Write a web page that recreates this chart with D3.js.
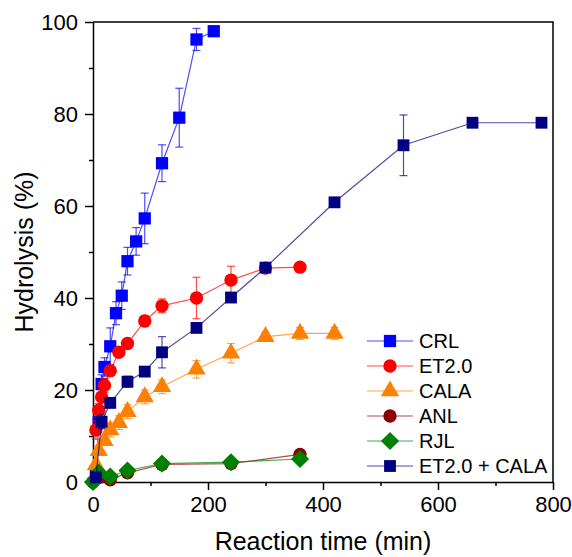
<!DOCTYPE html>
<html>
<head>
<meta charset="utf-8">
<script src="https://cdn.jsdelivr.net/npm/d3@7"></script>
<style>
  body { margin: 0; background: #fff; }
  text { font-family: "Liberation Sans", Arial, sans-serif; fill: #000; }
</style>
</head>
<body>
<div id="chart"></div>
<script>
// ---------- data ----------
const crlTime = [5, 10, 15, 20, 30, 40, 50, 60, 75, 90, 120, 150, 180, 210];
const crlHyd  = [1.5, 13, 21.3, 25, 29.5, 36.7, 40.5, 48, 52.3, 57.3, 69.3, 79.2, 96.2, 98];
const crlErr  = [0.5, 1.5, 2, 2, 4, 2.5, 3, 3, 3, 5.5, 4, 6.4, 2.4, 1];

const etTime = [5, 10, 15, 20, 30, 45, 60, 90, 120, 180, 240, 300, 360];
const etHyd  = [11.3, 15.6, 18.5, 21, 24.2, 28.2, 30.1, 35, 38.3, 40, 43.9, 46.5, 46.7];
const etErr  = [2, 1.5, 1.5, 1.5, 1, 1, 1, 1.2, 1.5, 4.5, 3, 0.5, 0.3];

const calaTime = [5, 10, 20, 30, 45, 60, 90, 120, 180, 240, 300, 360, 420];
const calaHyd  = [3.7, 6.8, 9, 11.3, 12.9, 15.3, 18.5, 20.7, 24.5, 28, 31.6, 32.3, 32.3];
const calaErr  = [0.5, 1, 1, 1.5, 1.5, 1.5, 1.5, 1.5, 1.9, 2.1, 1, 1.3, 1.3];

const anlTime = [0, 10, 30, 60, 120, 240, 360];
const anlHyd  = [0, 1, 0.5, 2, 3.8, 4, 6];
const anlErr  = [0, 0, 0, 0.3, 0.3, 0.3, 0.3];

const rjlTime = [0, 10, 30, 60, 120, 240, 360];
const rjlHyd  = [0, 2, 1.2, 2.5, 4, 4.3, 5];
const rjlErr  = [0, 0, 0, 0.3, 0.3, 0.3, 0.3];

const mixTime = [5, 15, 30, 60, 90, 120, 180, 240, 300, 420, 540, 660, 780];
const mixHyd  = [1, 13.1, 17.2, 21.8, 24, 28.2, 33.5, 40.1, 46.6, 60.8, 73.2, 78.1, 78.1];
const mixErr  = [0.5, 1.5, 1, 1.2, 1, 3.4, 1, 1, 0.5, 0.5, 6.6, 0.5, 0.5];

const seriesNames = ["CRL", "ET2.0", "CALA", "ANL", "RJL", "ET2.0 + CALA"];
const xTicks = [0, 200, 400, 600, 800];
const yTicks = [0, 20, 40, 60, 80, 100];

// rot = rotation of the symbol (diamond = square turned 45deg)
const series = [
  { name: seriesNames[0], t: crlTime, y: crlHyd, e: crlErr, color: "#0000ff", sym: d3.symbolSquare, size: 150, rot: 0 },
  { name: seriesNames[1], t: etTime, y: etHyd, e: etErr, color: "#ff0000", sym: d3.symbolCircle, size: 140, rot: 0 },
  { name: seriesNames[2], t: calaTime, y: calaHyd, e: calaErr, color: "#ff8000", sym: d3.symbolTriangle, size: 145, rot: 0 },
  { name: seriesNames[3], t: anlTime, y: anlHyd, e: anlErr, color: "#8b0000", sym: d3.symbolCircle, size: 140, rot: 0 },
  { name: seriesNames[4], t: rjlTime, y: rjlHyd, e: rjlErr, color: "#008000", sym: d3.symbolSquare, size: 165, rot: 45 },
  { name: seriesNames[5], t: mixTime, y: mixHyd, e: mixErr, color: "#000080", sym: d3.symbolSquare, size: 140, rot: 0 }
];

// ---------- layout ----------
const W = 572, H = 557;
const margin = { top: 22, left: 93, right: 19, bottom: 75 };
const width = W - margin.left - margin.right,
      height = H - margin.top - margin.bottom;

const svg = d3.select("#chart").append("svg")
  .attr("width", W).attr("height", H);

const x = d3.scaleLinear().domain([0, 800]).range([margin.left, margin.left + width]);
const y = d3.scaleLinear().domain([0, 100]).range([margin.top + height, margin.top]);

// frame (top + right)
svg.append("path")
  .attr("d", `M${x(0)},${y(100)}H${x(800)}V${y(0)}`)
  .attr("fill", "none").attr("stroke", "#000").attr("stroke-width", 1.5);

// minor ticks
svg.append("g")
  .attr("transform", `translate(0,${y(0)})`)
  .call(d3.axisBottom(x).tickValues([100, 300, 500, 700]).tickSize(4).tickFormat(""))
  .call(g => g.select(".domain").remove())
  .selectAll("line").attr("stroke-width", 1.5);
svg.append("g")
  .attr("transform", `translate(${x(0)},0)`)
  .call(d3.axisLeft(y).tickValues([10, 30, 50, 70, 90]).tickSize(4).tickFormat(""))
  .call(g => g.select(".domain").remove())
  .selectAll("line").attr("stroke-width", 1.5);

// major axes
const xAxis = svg.append("g")
  .attr("transform", `translate(0,${y(0)})`)
  .call(d3.axisBottom(x).tickValues(xTicks).tickSize(8).tickSizeOuter(0).tickPadding(6));
const yAxis = svg.append("g")
  .attr("transform", `translate(${x(0)},0)`)
  .call(d3.axisLeft(y).tickValues(yTicks).tickSize(8).tickSizeOuter(0).tickPadding(7));

[xAxis, yAxis].forEach(a => {
  a.select(".domain").attr("stroke-width", 1.5);
  a.selectAll("line").attr("stroke-width", 1.5);
  a.selectAll("text").style("font-size", "22px").attr("fill", "#000");
});

// axis titles
svg.append("text")
  .attr("x", (x(0) + x(800)) / 2).attr("y", 550)
  .attr("text-anchor", "middle")
  .style("font-size", "25px")
  .text("Reaction time (min)");

svg.append("text")
  .attr("transform", `translate(33,${(y(0) + y(100)) / 2}) rotate(-90)`)
  .attr("text-anchor", "middle")
  .style("font-size", "25px")
  .text("Hydrolysis (%)");

// ---------- series ----------
const line = d3.line().x(d => x(d.t)).y(d => y(d.y));

series.forEach(s => {
  const pts = s.t.map((t, i) => ({ t: t, y: s.y[i], e: s.e[i] }));
  const g = svg.append("g");

  g.append("path")
    .datum(pts)
    .attr("d", line)
    .attr("fill", "none")
    .attr("stroke", s.color)
    .attr("stroke-opacity", 0.7)
    .attr("stroke-width", 1.2);

  // error bars
  const eb = g.selectAll(".err").data(pts.filter(d => d.e > 0)).enter().append("g")
    .attr("stroke", s.color).attr("stroke-opacity", 0.7).attr("stroke-width", 1.2);
  eb.append("line")
    .attr("x1", d => x(d.t)).attr("x2", d => x(d.t))
    .attr("y1", d => y(d.y - d.e)).attr("y2", d => y(d.y + d.e));
  eb.append("line")
    .attr("x1", d => x(d.t) - 4).attr("x2", d => x(d.t) + 4)
    .attr("y1", d => y(d.y + d.e)).attr("y2", d => y(d.y + d.e));
  eb.append("line")
    .attr("x1", d => x(d.t) - 4).attr("x2", d => x(d.t) + 4)
    .attr("y1", d => y(d.y - d.e)).attr("y2", d => y(d.y - d.e));

  g.selectAll(".mk").data(pts).enter().append("path")
    .attr("d", d3.symbol().type(s.sym).size(s.size))
    .attr("transform", d => `translate(${x(d.t)},${y(d.y)}) rotate(${s.rot})`)
    .attr("fill", s.color);
});

// ---------- legend ----------
const legend = svg.append("g").attr("transform", "translate(367,341)");
series.forEach((s, i) => {
  const row = legend.append("g").attr("transform", `translate(0,${i * 25})`);
  row.append("line")
    .attr("x1", 0).attr("x2", 46)
    .attr("stroke", s.color).attr("stroke-opacity", 0.7).attr("stroke-width", 1.2);
  row.append("path")
    .attr("d", d3.symbol().type(s.sym).size(s.size))
    .attr("transform", `translate(23,0) rotate(${s.rot})`)
    .attr("fill", s.color);
  row.append("text")
    .attr("x", 52).attr("dy", "0.35em")
    .style("font-size", "20px")
    .text(s.name);
});
</script>
</body>
</html>
